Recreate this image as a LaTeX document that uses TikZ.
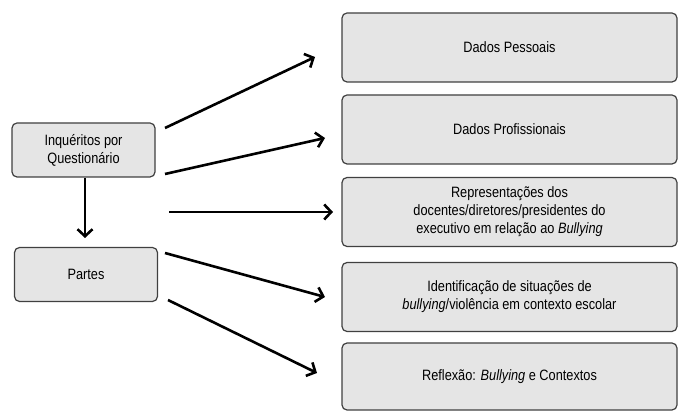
\documentclass[tikz,border=0pt]{standalone}
\usepackage{fontspec}
\setmainfont{Liberation Sans}[FakeStretch=0.85]
\usetikzlibrary{arrows.meta}
\begin{document}
\begin{tikzpicture}[x=1pt,y=-1pt,
  box/.style={draw=black!75,fill=black!10,line width=1.2pt,rounded corners=5pt,
    align=center,inner sep=0pt,font=\fontsize{15}{18}\selectfont},
  rbox/.style={box,minimum width=335pt,minimum height=69pt},
  lbox/.style={box,minimum width=143pt,minimum height=54pt},
  conn/.style={line width=2.6pt,-{Straight Barb[length=7pt,width=15pt,line width=2.6pt]}}]
\useasboundingbox (0,0) rectangle (678,411);
\node[lbox] (q) at (83.5,150) {Inquéritos por\\Questionário};
\node[lbox] (p) at (86,274.5) {Partes};
\node[rbox] (r1) at (509.5,47.5) {Dados Pessoais};
\node[rbox] (r2) at (509.5,129.5) {Dados Profissionais};
\node[rbox] (r3) at (509.5,212) {Representações dos\\docentes/diretores/presidentes do\\executivo em relação ao \textit{Bullying}};
\node[rbox] (r4) at (509.5,297) {Identificação de situações de\\\textit{bullying}/violência em contexto escolar};
\node[rbox,minimum height=67pt] (r5) at (509.5,376.5) {Reflexão: \textit{Bullying} e Contextos};
\coordinate (s1) at (165,128); \coordinate (e1) at (315,57);
\coordinate (s2) at (165,174); \coordinate (e2) at (325,138);
\coordinate (s3) at (169,212); \coordinate (e3) at (333,212);
\coordinate (s4) at (165,253); \coordinate (e4) at (325,297);
\coordinate (s5) at (168,300); \coordinate (e5) at (317,373);
\coordinate (sd) at (85,178); \coordinate (ed) at (85,238);
\draw[conn] (s1) -- (e1);
\draw[conn] (s2) -- (e2);
\draw[conn] (s3) -- (e3);
\draw[conn] (s4) -- (e4);
\draw[conn] (s5) -- (e5);
\draw[conn] (sd) -- (ed);
\end{tikzpicture}
\end{document}
